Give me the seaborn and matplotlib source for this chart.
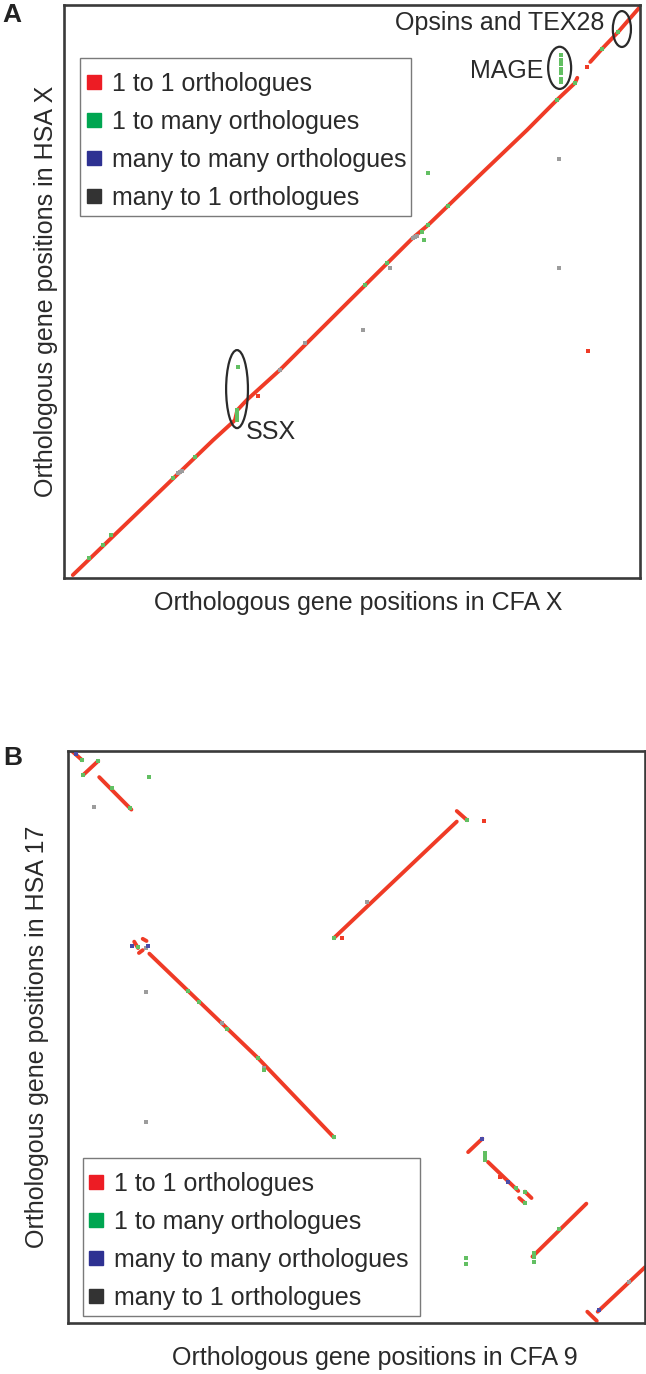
import matplotlib
matplotlib.use("Agg")
import matplotlib.pyplot as plt
from matplotlib.lines import Line2D
from matplotlib.patches import Ellipse, Rectangle
import seaborn as sns
import pandas as pd

# ---------------- data : panel A (CFA X vs HSA X, Mb) ----------------
A_seg = [0]*14 + [1]*4
A_seg_x = [1.9, 32.1, 36.8, 37.3, 39.4, 46.5, 61.6, 75.1, 78.4, 90.2, 99.7, 106.1, 110.0, 110.5,
           113.3, 115.8, 119.3, 124.0]
A_seg_y = [0.8, 37.3, 42.7, 45.4, 48.2, 56.3, 75.2, 92.0, 95.5, 109.8, 121.2, 129.3, 133.9, 135.3,
           139.6, 143.1, 147.7, 154.5]
A_red_x = [41.8, 112.8, 112.6]
A_red_y = [49.2, 61.4, 138.2]
A_green_x = [5.4, 8.4, 10.1, 23.5, 28.2, 37.3, 37.3, 37.3, 37.3, 37.5, 64.8, 69.5, 77.1, 77.5,
             78.4, 82.7, 78.4, 106.1, 110.0, 106.9, 106.9, 106.9, 106.9, 106.9, 106.9, 106.9,
             115.8, 119.3]
A_green_y = [5.4, 8.9, 11.6, 27.1, 32.7, 42.8, 43.7, 44.6, 45.4, 57.1, 79.3, 85.2, 93.6, 91.4,
             95.5, 100.6, 109.6, 129.3, 133.9, 134.2, 135.1, 136.5, 137.6, 139.0, 140.1, 141.5,
             143.1, 147.7]
A_gray_x = [24.6, 25.0, 25.4, 46.5, 70.2, 75.2, 75.6, 76.0, 64.4, 106.6, 106.6, 51.9]
A_gray_y = [28.4, 28.7, 29.0, 56.3, 83.9, 92.0, 92.2, 92.6, 67.1, 113.3, 83.9, 63.6]

# ---------------- data : panel B (CFA 9 vs HSA 17, Mb) ----------------
B_seg = [0, 0, 1, 1, 2, 2, 3, 3, 4, 4, 5, 5, 6, 6, 7, 7, 8, 8, 8, 9, 9, 10, 10, 11, 11,
         12, 12, 13, 13, 14, 14, 15, 15]
B_seg_x = [0.4, 1.5, 1.6, 3.2, 3.3, 6.7, 28.1, 41.1, 41.1, 42.2, 7.0, 7.4, 7.9, 8.3, 7.5, 7.9,
           8.6, 20.1, 28.1, 42.3, 43.8, 44.4, 47.6, 48.3, 49.0, 47.7, 48.3, 49.1, 54.8,
           54.9, 55.9, 56.0, 61.0]
B_seg_y = [81.0, 79.7, 77.6, 79.6, 77.3, 72.7, 54.5, 71.0, 72.5, 71.2, 54.0, 53.1, 54.4, 54.1,
           52.4, 52.8, 52.3, 37.5, 26.3, 24.2, 26.1, 22.8, 18.7, 18.6, 17.7, 17.7, 17.0, 9.4, 16.9,
           1.6, 0.3, 1.6, 7.9]
B_red_x = [29.0, 44.0, 45.7]
B_red_y = [54.5, 71.1, 20.7]
B_green_x = [1.5, 1.6, 3.2, 4.6, 6.6, 8.6, 28.1, 42.2, 7.4, 12.7, 13.9, 16.8, 20.1, 20.7, 28.1,
             44.1, 44.1, 44.1, 47.4, 48.3, 48.3, 42.1, 42.1, 51.9, 49.3, 49.3, 49.3]
B_green_y = [79.7, 77.6, 79.6, 75.8, 72.9, 77.3, 54.5, 71.2, 53.3, 47.0, 45.5, 41.6, 37.5, 35.8,
             26.3, 24.1, 23.6, 23.1, 19.1, 18.6, 17.0, 9.2, 8.4, 13.3, 9.9, 9.3, 8.6]
B_blue_x = [0.85, 6.8, 8.5, 43.8, 46.5, 56.1]
B_blue_y = [80.6, 53.4, 53.4, 26.1, 20.0, 1.8]
B_gray_x = [2.75, 31.6, 8.25, 16.3, 20.7, 8.25, 8.25, 59.3]
B_gray_y = [73.1, 59.6, 53.1, 42.5, 36.1, 46.9, 28.5, 5.8]

legend_labels = ["1 to 1 orthologues", "1 to many orthologues",
                 "many to many orthologues", "many to 1 orthologues"]

# ---------------- styling ----------------
sns.set_style("white")
plt.rcParams["font.family"] = ["Liberation Sans", "DejaVu Sans"]

RED = "#ef3b26"
GREEN = "#62bf62"
BLUE = "#4b4ba8"
GRAY = "#9c9c9c"
LEG_COLORS = ["#ed1c24", "#00a651", "#2e3192", "#333333"]
SPINE = "#3a3a3a"
TXT = "#2a2a2a"
FS = 18

W, H = 646, 1374
fig = plt.figure(figsize=(W / 100, H / 100), dpi=100)

axA = fig.add_axes([64 / W, 1 - 578 / H, 576 / W, 573 / H])
axB = fig.add_axes([68 / W, 1 - 1323 / H, 577 / W, 572 / H])


def draw_panel(ax, seg, sx, sy, pts, xlim, ylim):
    df = pd.DataFrame({"seg": seg, "x": sx, "y": sy})
    sns.lineplot(data=df, x="x", y="y", units="seg", estimator=None, sort=False,
                 color=RED, lw=2.8, ax=ax, legend=False, solid_capstyle="round")
    for (px, py, col, size) in pts:
        pdf = pd.DataFrame({"x": px, "y": py})
        sns.scatterplot(data=pdf, x="x", y="y", color=col, marker="s", s=size,
                        linewidth=0, ax=ax, legend=False, zorder=3)
    ax.set_xlim(*xlim)
    ax.set_ylim(*ylim)
    ax.set_xticks([])
    ax.set_yticks([])
    for sp in ax.spines.values():
        sp.set_visible(True)
        sp.set_color(SPINE)
        sp.set_linewidth(1.9)


draw_panel(axA, A_seg, A_seg_x, A_seg_y,
           [(A_gray_x, A_gray_y, GRAY, 7), (A_green_x, A_green_y, GREEN, 9),
            (A_red_x, A_red_y, RED, 9)],
           (0, 124), (0, 155))
draw_panel(axB, B_seg, B_seg_x, B_seg_y,
           [(B_gray_x, B_gray_y, GRAY, 7), (B_green_x, B_green_y, GREEN, 9),
            (B_blue_x, B_blue_y, BLUE, 10), (B_red_x, B_red_y, RED, 9)],
           (0, 61), (0, 81))

# axis labels
axA.set_xlabel("Orthologous gene positions in CFA X", fontsize=FS, color=TXT)
axA.xaxis.set_label_coords((358 - 64) / 576, (578 - 603) / 573)
axA.xaxis.label.set_va("center")
axA.set_ylabel("Orthologous gene positions in HSA X", fontsize=FS, color=TXT)
axA.yaxis.set_label_coords((46 - 64) / 576, 0.5)
axA.yaxis.label.set_va("center")

axB.set_xlabel("Orthologous gene positions in CFA 9", fontsize=FS, color=TXT)
axB.xaxis.set_label_coords((375 - 68) / 577, (1323 - 1358) / 572)
axB.xaxis.label.set_va("center")
axB.set_ylabel("Orthologous gene positions in HSA 17", fontsize=FS, color=TXT)
axB.yaxis.set_label_coords((37 - 68) / 577, 0.5)
axB.yaxis.label.set_va("center")

# annotations panel A
axA.text((604 - 64) / 576, (578 - 23) / 573, "Opsins and TEX28", transform=axA.transAxes,
         ha="right", va="center", fontsize=FS, color=TXT)
axA.text((543 - 64) / 576, (578 - 71) / 573, "MAGE", transform=axA.transAxes,
         ha="right", va="center", fontsize=FS, color=TXT)
axA.text((246 - 64) / 576, (578 - 432) / 573, "SSX", transform=axA.transAxes,
         ha="left", va="center", fontsize=FS, color=TXT)
for (cx, cy, ew, eh) in [(37.25, 51.1, 4.7, 21.1), (106.7, 138.0, 4.95, 11.4),
                         (120.1, 148.5, 3.9, 9.7)]:
    axA.add_patch(Ellipse((cx, cy), ew, eh, fill=False, edgecolor="#2a2a2a", lw=1.6,
                          zorder=5))

# panel letters
fig.text(2 / W, 1 - 15 / H, "A", fontsize=FS + 1, fontweight="bold", ha="left",
         va="center", color="#222222")
fig.text(3 / W, 1 - 758 / H, "B", fontsize=FS + 1, fontweight="bold", ha="left",
         va="center", color="#222222")

# legends: frame drawn separately for exact placement
handles = [Line2D([0], [0], marker="s", ls="none", markerfacecolor=c, markeredgecolor=c,
                  markersize=10) for c in LEG_COLORS]
for (hx, cy, frame) in [(86, 140.5, (80, 58, 411, 216)), (88.5, 1240.5, (83, 1158, 420, 1316))]:
    x0, y0, x1, y1 = frame
    rect = Rectangle((x0 / W, 1 - y1 / H), (x1 - x0) / W, (y1 - y0) / H,
                     transform=fig.transFigure, fill=True, facecolor="white",
                     edgecolor="#7a7a7a", lw=1.0, zorder=2)
    fig.add_artist(rect)
    leg = fig.legend(handles, legend_labels, loc="center left",
                     bbox_to_anchor=(hx / W, 1 - cy / H), frameon=False, fontsize=FS,
                     handlelength=0.6, handletextpad=0.42, labelspacing=0.56,
                     borderpad=0, borderaxespad=0)
    leg.set_zorder(3)
    for t in leg.get_texts():
        t.set_color(TXT)

fig.savefig("out.png", dpi=100)
